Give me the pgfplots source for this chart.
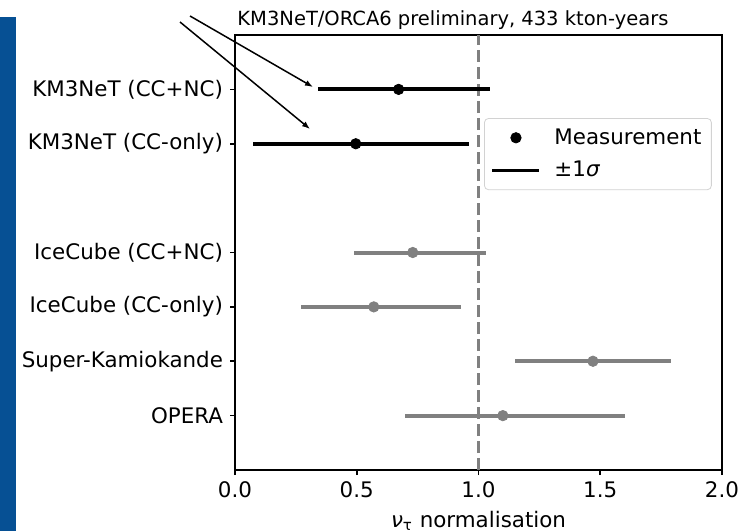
\documentclass[border=0pt]{standalone}
\usepackage{pgfplots}
\pgfplotsset{compat=1.18}
\usepackage{fontspec}
\setmainfont{DejaVu Sans}
\usetikzlibrary{arrows.meta}
\definecolor{slideblue}{RGB}{6,80,148}
\definecolor{errgray}{RGB}{128,128,128}
\begin{document}
\begin{tikzpicture}
\path[use as bounding box] (0,0) rectangle (374pt,265.5pt);
\fill[slideblue] (0,0) rectangle (8pt,257pt);
\begin{axis}[
  name=ax,
  at={(117.5pt,30.5pt)}, anchor=south west,
  scale only axis, width=243.5pt, height=217.5pt,
  xmin=0, xmax=2, ymin=-1, ymax=7,
  axis line style={line width=0.9pt},
  xtick={0,0.5,1,1.5,2},
  xticklabel style={/pgf/number format/.cd, fixed, fixed zerofill, precision=1, assume math mode=true},
  ytick={0,1,2,3,5,6},
  yticklabels={OPERA, Super-Kamiokande, IceCube (CC-only), IceCube (CC+NC), KM3NeT (CC-only), KM3NeT (CC+NC)},
  tick align=outside, xtick pos=bottom, ytick pos=left,
  major tick length=2.5pt,
  tick style={line width=0.8pt, black},
  ticklabel style={font=\fontsize{10.7}{12.8}\selectfont},
  xlabel={{\itshape ν}\textsubscript{τ} normalisation},
  xlabel style={font=\fontsize{10.7}{12.8}\selectfont, at={(axis description cs:0.5,0)}, anchor=base, yshift=-28.5pt},
  legend style={at={(0.979,0.809)}, anchor=north east, draw=gray!35, rounded corners=2pt,
    font=\fontsize{10.7}{12.8}\selectfont, row sep=3pt, inner xsep=3pt, inner ysep=3pt},
  legend cell align=left,
]
\addlegendimage{legend image code/.code={\fill[black] (11.75pt,0pt) circle (2.6pt);\path[draw=none,fill=none] (-1pt,0pt) -- (29pt,0pt);}}
\addlegendentry{Measurement}
\addlegendimage{legend image code/.code={\draw[black, line width=1.2pt] (0pt,0pt) -- (23.5pt,0pt);\path[draw=none,fill=none] (-1pt,0pt) -- (29pt,0pt);}}
\addlegendentry{±1{\itshape σ}}
% reference line
\addplot[errgray, line width=1.2pt, dash pattern=on 6pt off 2.5pt, forget plot] coordinates {(1,-1) (1,7)};
% KM3NeT (black)
\addplot[black, only marks, mark=*, mark size=2.6pt, forget plot,
  error bars/.cd, x dir=both, x explicit, error mark=none,
  error bar style={line width=2pt, black}]
  coordinates {
    (0.672,6) -= (0.330,0) += (0.375,0)
    (0.496,5) -= (0.421,0) += (0.465,0)
  };
% others (gray)
\addplot[errgray, only marks, mark=*, mark size=2.6pt, forget plot,
  error bars/.cd, x dir=both, x explicit, error mark=none,
  error bar style={line width=2pt, errgray}]
  coordinates {
    (0.73,3) -= (0.24,0) += (0.30,0)
    (0.57,2) -= (0.30,0) += (0.36,0)
    (1.47,1) -= (0.32,0) += (0.32,0)
    (1.10,0) -= (0.40,0) += (0.50,0)
  };
\end{axis}
\node[anchor=base west, inner sep=0pt, font=\fontsize{9.75}{11.7}\selectfont] at ([xshift=1pt,yshift=5pt]ax.north west) {KM3NeT/ORCA6 preliminary, 433 kton-years};
\draw[black, line width=0.75pt, -{Latex[length=4pt,width=3pt]}] (95pt,257.5pt) -- (156.5pt,222pt);
\draw[black, line width=0.75pt, -{Latex[length=4pt,width=3pt]}] (90pt,254.5pt) -- (155pt,201pt);
\end{tikzpicture}
\end{document}
